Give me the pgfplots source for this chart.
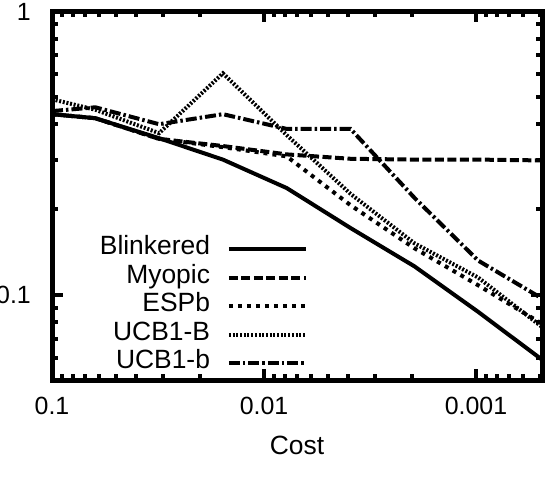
\documentclass[border=0pt]{standalone}
\usepackage{fontspec}
\setmainfont{Liberation Sans}
\usepackage{pgfplots}
\usepackage{pgfplotstable}
\pgfplotsset{compat=1.18}

% cost (power-of-two steps) and error of each policy
\pgfplotstableread{
cost           blinkered myopic espb  ucbB  ucbb
0.1            0.434     0.434  0.434 0.490 0.445
0.0625         0.420     0.420  0.420 0.450 0.459
0.03125        0.357     0.355  0.355 0.372 0.400
0.015625       0.300     0.335  0.332 0.605 0.434
0.0078125      0.238     0.313  0.308 0.366 0.385
0.00390625     0.172     0.302  0.207 0.227 0.385
0.001953125    0.126     0.300  0.146 0.152 0.220
0.0009765625   0.087     0.300  0.108 0.115 0.132
0.00048828125  0.059     0.298  0.079 0.077 0.097
}\costdata

\begin{document}
\begin{tikzpicture}
\begin{axis}[
    scale only axis,
    width=490bp, height=368.5bp,
    xmode=log, ymode=log,
    x dir=reverse,
    xmin=0.00048828125, xmax=0.1,
    ymin=0.05, ymax=1,
    xtick={0.1,0.01,0.001}, xticklabels={0.1,0.01,0.001},
    ytick={0.1,1}, yticklabels={0.1,1},
    minor xtick={0.09,0.08,0.07,0.06,0.05,0.04,0.03,0.02,
                 0.009,0.008,0.007,0.006,0.005,0.004,0.003,0.002,
                 0.0009,0.0008,0.0007,0.0006,0.0005},
    minor ytick={0.06,0.07,0.08,0.09,0.2,0.3,0.4,0.5,0.6,0.7,0.8,0.9},
    tick align=inside,
    major tick length=11bp, minor tick length=6bp,
    tick style={line width=4bp, black},
    axis line style={line width=5bp},
    font=\fontsize{26.5}{30}\selectfont,
    /pgf/number format/assume math mode=true,
    ticklabel style={font=\fontsize{25}{30}\selectfont},
    xticklabel style={inner sep=0pt, anchor=north, yshift=-17bp},
    yticklabel style={inner sep=0pt, anchor=east, xshift=-21bp},
    xlabel={Cost},
    xlabel style={at={(rel axis cs:0.5,0)}, anchor=north, inner sep=0pt, yshift=-56bp},
    legend plot pos=right,
    legend cell align=right,
    legend image code/.code={\draw[#1] (0bp,0bp) -- (77bp,0bp);},
    legend style={draw=none, fill=none, inner sep=0pt, outer sep=0pt,
        at={(rel axis cs:0.5224,0.3935)}, anchor=north east,
        row sep=0pt, column sep=17bp,
        nodes={inner sep=0pt, text height=19.5bp, text depth=9bp}},
    every axis plot/.append style={black, line width=4bp, line cap=butt},
]
\addplot[solid] table[x=cost, y=blinkered] {\costdata};
\addlegendentry{Blinkered}
\addplot[dash pattern=on 9bp off 3.5bp] table[x=cost, y=myopic] {\costdata};
\addlegendentry{Myopic}
\addplot[dash pattern=on 4bp off 5bp] table[x=cost, y=espb] {\costdata};
\addlegendentry{ESPb}
\addplot[dash pattern=on 2bp off 1.7bp] table[x=cost, y=ucbB] {\costdata};
\addlegendentry{UCB1-B}
\addplot[dash pattern=on 11bp off 3bp on 2.5bp off 3bp] table[x=cost, y=ucbb] {\costdata};
\addlegendentry{UCB1-b}
\end{axis}
\pgfresetboundingbox
\path[use as bounding box] ([shift={(-52bp,-112bp)}]current axis.south west)
    rectangle ([shift={(4bp,11.5bp)}]current axis.north east);
\end{tikzpicture}
\end{document}
